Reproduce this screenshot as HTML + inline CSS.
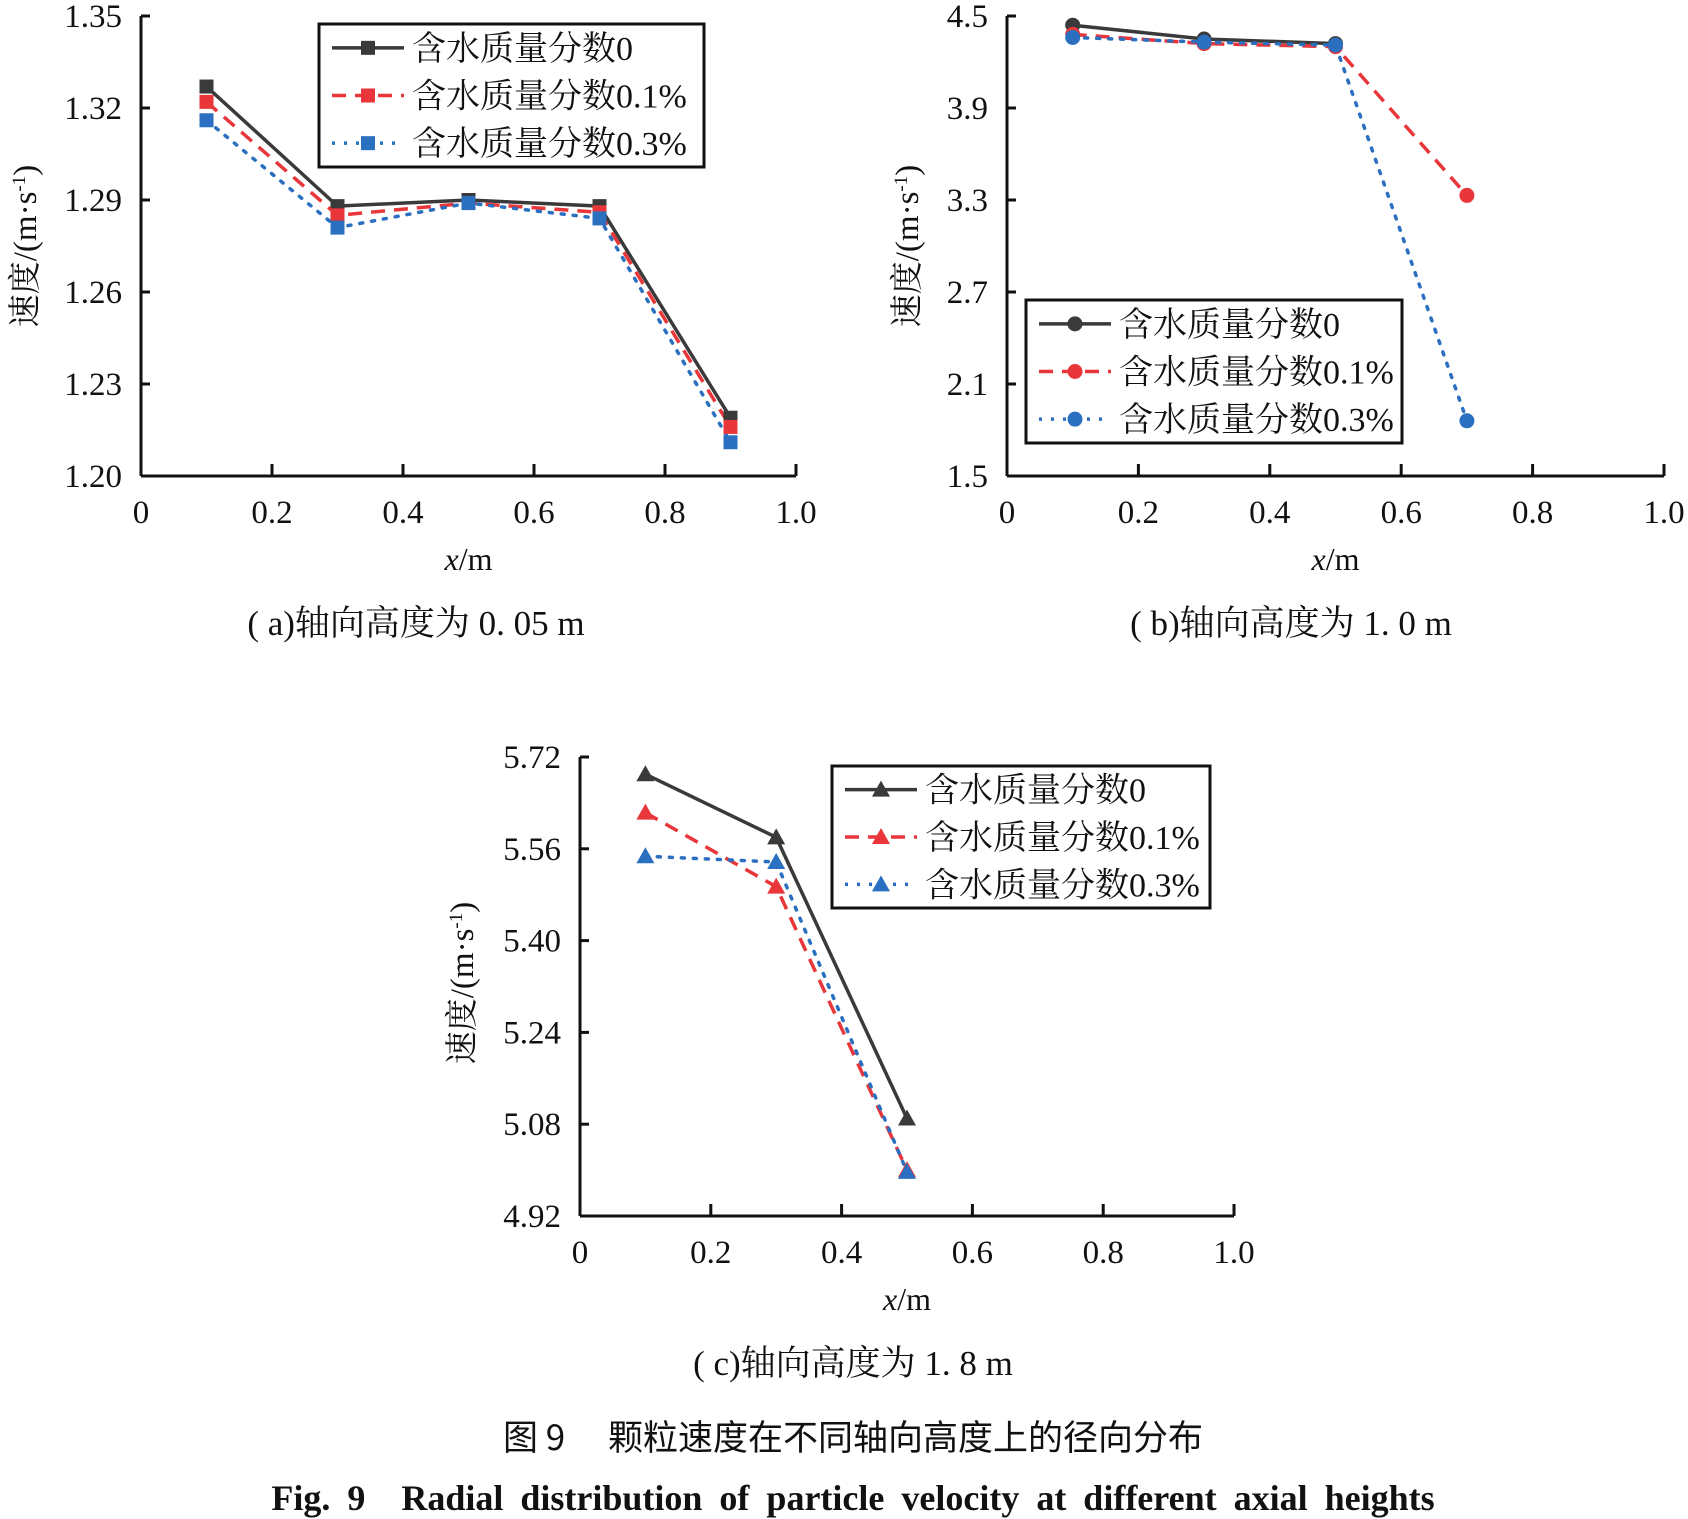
<!DOCTYPE html>
<html><head><meta charset="utf-8"><style>
html,body{margin:0;padding:0;background:#fff;}
svg{display:block;}
text{font-family:"Liberation Serif","Noto Serif CJK SC",serif;fill:#111;}
</style></head><body>
<svg id="s" xmlns="http://www.w3.org/2000/svg" width="1688" height="1519" viewBox="0 0 1688 1519"></svg>
<script>
const S=document.getElementById('s');let h='';
const cols=['#3a3a3a','#e8363a','#2a6fc0'];
const dash=['none','14,9','3,9'];
function mk(shape,x,y,c){
 if(shape=='sq')return `<rect x="${x-7}" y="${y-7}" width="14" height="14" fill="${c}"/>`;
 if(shape=='ci')return `<circle cx="${x}" cy="${y}" r="7.5" fill="${c}"/>`;
 return `<polygon points="${x},${y-9} ${x-9},${y+7} ${x+9},${y+7}" fill="${c}"/>`;
}
function panel(o){
 const X=v=>o.x0+(o.x1-o.x0)*v, Y=v=>o.yb+(o.yt-o.yb)*(v-o.ymin)/(o.ymax-o.ymin);
 h+=`<line x1="${o.x0}" y1="${o.yt}" x2="${o.x0}" y2="${o.yb}" stroke="#111" stroke-width="3"/>`;
 h+=`<line x1="${o.x0}" y1="${o.yb}" x2="${o.x1}" y2="${o.yb}" stroke="#111" stroke-width="3"/>`;
 o.yt_labels.forEach((l,i)=>{const y=o.yt+(o.yb-o.yt)*i/(o.yt_labels.length-1);
  h+=`<line x1="${o.x0}" y1="${y}" x2="${o.x0+9}" y2="${y}" stroke="#111" stroke-width="3"/>`;
  h+=`<text x="${o.x0-19}" y="${y+11}" font-size="33" text-anchor="end">${l}</text>`;});
 ['0','0.2','0.4','0.6','0.8','1.0'].forEach((l,i)=>{const x=X(i/5);
  if(i>0)h+=`<line x1="${x}" y1="${o.yb}" x2="${x}" y2="${o.yb-12}" stroke="#111" stroke-width="3"/>`;
  h+=`<text x="${x}" y="${o.yb+47}" font-size="33" text-anchor="middle">${l}</text>`;});
 o.data.forEach((d,k)=>{const pts=d.map((v,i)=>X(0.1+0.2*i)+','+Y(v)).join(' ');
  h+=`<polyline points="${pts}" fill="none" stroke="${cols[k]}" stroke-width="3.5" stroke-dasharray="${dash[k]}" ${k==2?'stroke-linecap="round"':''}/>`;});
 o.data.forEach((d,k)=>d.forEach((v,i)=>h+=mk(o.shape,X(0.1+0.2*i),Y(v),cols[k])));
 const L=o.leg;h+=`<rect x="${L[0]}" y="${L[1]}" width="${L[2]-L[0]}" height="${L[3]-L[1]}" fill="#fff" stroke="#111" stroke-width="3"/>`;
 const labs=['含水质量分数0','含水质量分数0.1%','含水质量分数0.3%'];
 const rh=(L[3]-L[1])/3;
 labs.forEach((t,k)=>{const y=L[1]+rh*(k+0.5);const lx=L[0]+13;
  h+=`<line x1="${lx}" y1="${y}" x2="${lx+72}" y2="${y}" stroke="${cols[k]}" stroke-width="3.5" stroke-dasharray="${dash[k]}"/>`;
  h+=mk(o.shape,lx+36,y,cols[k]);
  h+=`<text x="${lx+80}" y="${y+12}" font-size="34">${t}</text>`;});
 h+=`<text transform="translate(${o.ylx},${o.yly}) rotate(-90)" font-size="33" text-anchor="middle">速度/(m·s<tspan dy="-11" font-size="19">-1</tspan><tspan dy="11">)</tspan></text>`;
 h+=`<text x="${(o.x0+o.x1)/2}" y="${o.yb+94}" font-size="32" text-anchor="middle"><tspan font-style="italic">x</tspan>/m</text>`;
 h+=`<text x="${o.cx}" y="${o.yb+159}" font-size="35" text-anchor="middle">${o.cap}</text>`;
}
panel({x0:141,x1:796,yt:16,yb:476,ymin:1.20,ymax:1.35,yt_labels:['1.35','1.32','1.29','1.26','1.23','1.20'],shape:'sq',
 data:[[1.327,1.288,1.290,1.288,1.219],[1.322,1.285,1.289,1.286,1.216],[1.316,1.281,1.289,1.284,1.211]],
 leg:[319,24,704,167],ylx:36,yly:246,cx:416,cap:'( a)轴向高度为 0. 05  m'});
panel({x0:1007,x1:1664,yt:16,yb:476,ymin:1.5,ymax:4.5,yt_labels:['4.5','3.9','3.3','2.7','2.1','1.5'],shape:'ci',
 data:[[4.44,4.35,4.32],[4.38,4.32,4.30,3.33],[4.36,4.33,4.31,1.86]],
 leg:[1026,300,1402,443],ylx:918,yly:246,cx:1291,cap:'( b)轴向高度为 1. 0  m'});
panel({x0:580,x1:1234,yt:757,yb:1216,ymin:4.92,ymax:5.72,yt_labels:['5.72','5.56','5.40','5.24','5.08','4.92'],shape:'tr',
 data:[[5.69,5.58,5.09],[5.623,5.494,5.00],[5.547,5.537,4.997]],
 leg:[832,766,1210,908],ylx:473,yly:983,cx:853,cap:'( c)轴向高度为 1. 8  m'});
h+=`<text x="853" y="1450" font-size="35" text-anchor="middle" style="font-family:'Noto Sans CJK SC',sans-serif">图 9　 颗粒速度在不同轴向高度上的径向分布</text>`;
h+=`<text x="853" y="1510" font-size="36" font-weight="bold" text-anchor="middle" word-spacing="8">Fig. 9　Radial distribution of particle velocity at different axial heights</text>`;
S.innerHTML=h;
</script>
</body></html>
